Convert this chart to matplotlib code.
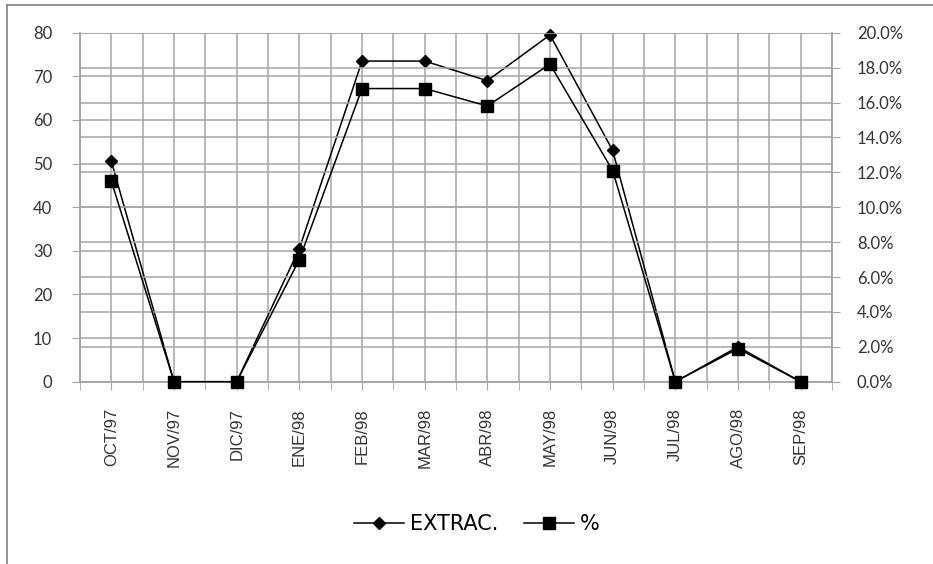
import numpy as np
import matplotlib
matplotlib.use('Agg')
from matplotlib import pyplot as plt
from matplotlib.lines import Line2D
from matplotlib.ticker import FuncFormatter, MultipleLocator

months = ['OCT/97', 'NOV/97', 'DIC/97', 'ENE/98', 'FEB/98', 'MAR/98',
          'ABR/98', 'MAY/98', 'JUN/98', 'JUL/98', 'AGO/98', 'SEP/98']
extrac = [50.5, 0, 0, 30.5, 73.5, 73.5, 69.0, 79.5, 53.0, 0, 8.0, 0]
pct = [11.5, 0, 0, 7.0, 16.8, 16.8, 15.8, 18.2, 12.1, 0, 1.9, 0]   # in %

grid_col = '#a6a6a6'
num_font = ['Lato', 'DejaVu Sans']

fig = plt.figure(figsize=(9.33, 5.64), dpi=100)
# outer chart border (only top and left edges show)
top_y = 1 - 4.5/564
left_x = 7.5/933
fig.lines.append(Line2D([left_x, 1], [top_y, top_y], transform=fig.transFigure,
                        color='#8c8c8c', linewidth=1.3))
fig.lines.append(Line2D([left_x, left_x], [0, top_y], transform=fig.transFigure,
                        color='#8c8c8c', linewidth=1.3))

ax = fig.add_axes([80/933, 1 - 381.7/564, (832-80)/933, (381.7-32.7)/564])
ax2 = ax.twinx()

x = np.arange(len(months))

ax.set_xlim(-0.5, len(months) - 0.5)
ax.set_ylim(0, 80)
ax2.set_ylim(0, 20)

ax.set_xticks(x)
ax.set_xticklabels(months, rotation=90, fontsize=12, family='Liberation Sans',
                   color='#333333')
ax.set_xticks(np.append(x - 0.5, x[-1] + 0.5), minor=True)
ax.tick_params(axis='x', which='both', length=6, color=grid_col, pad=13)
ax.xaxis.grid(True, which='both', color=grid_col, linewidth=1.1)

ax.yaxis.set_major_locator(MultipleLocator(10))
ax.tick_params(axis='y', length=6, color=grid_col, labelsize=12, pad=14,
               labelcolor='#333333')
for lab in ax.get_yticklabels():
    lab.set_family(num_font)
ax.yaxis.grid(True, color=grid_col, linewidth=1.1)

ax2.yaxis.set_major_locator(MultipleLocator(2))
ax2.yaxis.set_major_formatter(FuncFormatter(lambda v, p: '{:.1f}%'.format(v)))
ax2.tick_params(axis='y', length=6, color=grid_col, labelsize=12, pad=12,
                labelcolor='#333333')
for lab in ax2.get_yticklabels():
    lab.set_family(num_font)
ax2.yaxis.grid(True, color=grid_col, linewidth=1.1)

for a in (ax, ax2):
    for s in a.spines.values():
        s.set_color(grid_col)
        s.set_linewidth(1.1)
    a.spines['top'].set_visible(False)

l1, = ax.plot(x, extrac, color='black', linewidth=1.1, marker='D',
              markersize=6.5, label='EXTRAC.', zorder=5, clip_on=False)
l2, = ax2.plot(x, pct, color='black', linewidth=1.1, marker='s',
               markersize=8.5, label='%', zorder=5, clip_on=False)

fig.legend(handles=[l1, l2], loc='center', bbox_to_anchor=(477/933, 1 - 524/564),
           ncol=2, frameon=False, handlelength=2.4, handletextpad=0.3,
           columnspacing=1.2, prop={'family': ['Liberation Sans Narrow', 'DejaVu Sans'],
                                    'size': 15})

plt.savefig('out.png', dpi=100)
